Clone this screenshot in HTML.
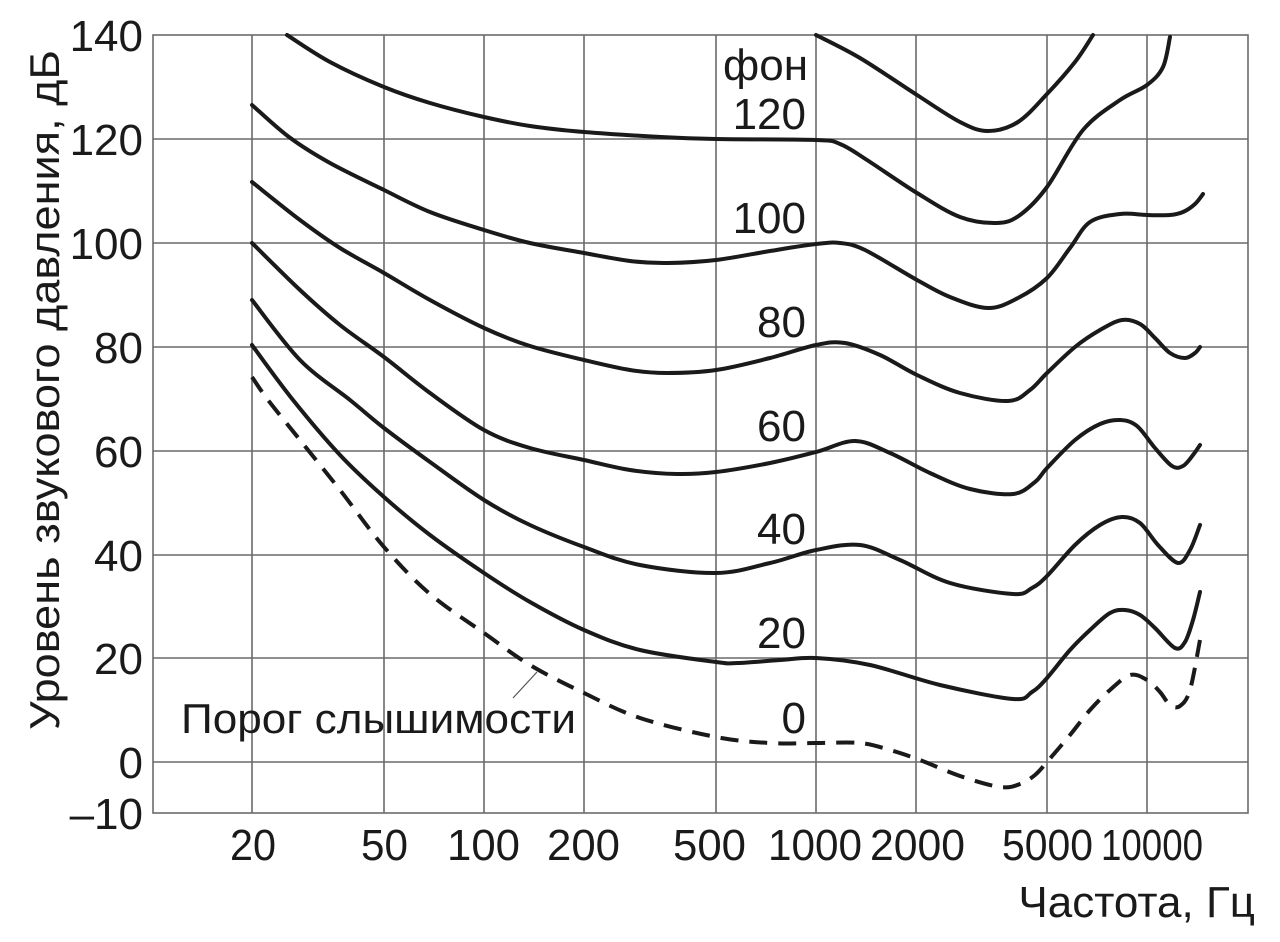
<!DOCTYPE html>
<html><head><meta charset="utf-8"><style>
html,body{margin:0;padding:0;background:#fff;}
svg{display:block;}
text{font-family:"Liberation Sans",sans-serif;fill:#1a1a1a;}
</style></head><body>
<svg id="s" width="1280" height="942" viewBox="0 0 1280 942" xmlns="http://www.w3.org/2000/svg">
<g stroke="#6a6a6a" stroke-width="1.6" fill="none">
<rect x="153" y="35" width="1095" height="778"/>
<line x1="153" y1="139" x2="1248" y2="139"/>
<line x1="153" y1="243" x2="1248" y2="243"/>
<line x1="153" y1="347" x2="1248" y2="347"/>
<line x1="153" y1="451" x2="1248" y2="451"/>
<line x1="153" y1="555" x2="1248" y2="555"/>
<line x1="153" y1="658" x2="1248" y2="658"/>
<line x1="153" y1="762" x2="1248" y2="762"/>
<line x1="252" y1="35" x2="252" y2="813"/>
<line x1="384" y1="35" x2="384" y2="813"/>
<line x1="484" y1="35" x2="484" y2="813"/>
<line x1="584" y1="35" x2="584" y2="813"/>
<line x1="716" y1="35" x2="716" y2="813"/>
<line x1="816" y1="35" x2="816" y2="813"/>
<line x1="916" y1="35" x2="916" y2="813"/>
<line x1="1047" y1="35" x2="1047" y2="813"/>
<line x1="1147" y1="35" x2="1147" y2="813"/>
</g>
<g class="c" stroke="#1a1a1a" stroke-width="4" fill="none" stroke-linejoin="round" stroke-linecap="round">
<polyline points="287,35 330,62 384,87 430,103 484,117 530,126 584,132 661,137 716,139 816,140 840,144 867,160 917,193 960,217 997,223 1020,215 1047,187 1083,130 1120,100 1147,85 1163,67 1170,37"/>
<polyline points="816,35 860,58 917,95 960,122 988,131 1018,122 1047,94 1075,62 1093,35"/>
<polyline points="252,105 289,137 330,163 384,190 430,212 484,230 530,243 584,253 630,261 668,263 716,260 770,251 816,244 840,243 865,250 917,280 950,297 988,308 1018,298 1047,278 1070,248 1090,222 1120,214 1147,215 1170,215 1183,212 1195,204 1203,194"/>
<polyline points="252,182 300,220 340,248 384,273 430,300 484,328 530,346 584,360 630,370 667,373 716,370 770,358 816,345 845,343 880,355 917,375 960,393 1008,401 1030,390 1047,373 1075,347 1100,330 1122,320 1140,324 1155,338 1170,353 1185,358 1195,353 1200,347"/>
<polyline points="252,243 300,290 340,325 384,357 430,393 484,430 530,448 584,460 630,470 677,474 716,472 770,463 816,452 855,441 890,453 930,473 970,489 1013,494 1035,482 1047,468 1075,440 1100,424 1120,420 1137,426 1155,448 1172,466 1183,466 1193,455 1200,445"/>
<polyline points="252,300 300,360 350,400 384,428 430,462 484,500 530,525 584,547 640,565 716,573 770,563 816,550 860,545 900,560 950,583 1013,594 1032,588 1047,576 1075,545 1100,525 1122,517 1140,523 1158,545 1178,563 1190,550 1200,525"/>
<polyline points="252,345 293,400 340,455 384,497 430,535 484,573 530,602 584,630 640,650 716,662 738,663 780,660 816,658 870,665 940,685 1013,699 1032,692 1047,678 1070,650 1090,630 1110,613 1125,610 1140,615 1155,628 1175,648 1185,642 1193,620 1200,592"/>
</g>
<g class="c" fill="none" stroke="#1a1a1a" stroke-width="4" stroke-dasharray="18,11" stroke-linejoin="round">
<polyline points="252,377 268,400 300,440 340,490 384,547 430,594 484,633 530,665 584,693 640,718 716,737 770,743 816,743 860,743 890,750 920,760 960,776 1000,787 1020,784 1035,775 1047,762 1070,735 1090,710 1110,690 1130,675 1147,680 1160,692 1170,705 1180,706 1190,690 1200,640"/>
</g>
<line x1="537" y1="672" x2="513" y2="698" stroke="#555" stroke-width="1.2"/>
<g font-size="44" text-anchor="end">
<text x="143" y="51">140</text>
<text x="143" y="155">120</text>
<text x="143" y="259">100</text>
<text x="143" y="363">80</text>
<text x="143" y="467">60</text>
<text x="143" y="571">40</text>
<text x="143" y="674">20</text>
<text x="143" y="778">0</text>
<text x="143" y="829">–10</text>
<text x="808" y="80">фон</text>
<text x="806" y="129">120</text>
<text x="806" y="233">100</text>
<text x="806" y="337">80</text>
<text x="806" y="441">60</text>
<text x="806" y="544">40</text>
<text x="806" y="648">20</text>
<text x="806" y="733">0</text>
<text x="1255" y="917">Частота, Гц</text>
</g>
<g font-size="44">
<text x="230" y="860" textLength="46" lengthAdjust="spacingAndGlyphs">20</text>
<text x="361" y="860" textLength="47" lengthAdjust="spacingAndGlyphs">50</text>
<text x="447" y="860" textLength="73" lengthAdjust="spacingAndGlyphs">100</text>
<text x="547" y="860" textLength="73" lengthAdjust="spacingAndGlyphs">200</text>
<text x="673" y="860" textLength="73" lengthAdjust="spacingAndGlyphs">500</text>
<text x="768" y="860" textLength="94" lengthAdjust="spacingAndGlyphs">1000</text>
<text x="870" y="860" textLength="95" lengthAdjust="spacingAndGlyphs">2000</text>
<text x="1002" y="860" textLength="91" lengthAdjust="spacingAndGlyphs">5000</text>
<text x="1101" y="860" textLength="102" lengthAdjust="spacingAndGlyphs">10000</text>
</g>
<text x="181" y="733" font-size="42" textLength="395" lengthAdjust="spacingAndGlyphs">Порог слышимости</text>
<text transform="translate(59,390) rotate(-90)" font-size="42" text-anchor="middle" textLength="680" lengthAdjust="spacingAndGlyphs">Уровень звукового давления, дБ</text>
</svg>
<script>
(function(){
var ns="http://www.w3.org/2000/svg";
document.querySelectorAll('.c polyline').forEach(function(pl){
 var p=pl.getAttribute('points').trim().split(/\s+/).map(function(s){return s.split(',').map(Number);});
 var d='M'+p[0][0]+','+p[0][1];
 for(var i=0;i<p.length-1;i++){
  var p0=p[i-1]||p[i],p1=p[i],p2=p[i+1],p3=p[i+2]||p[i+1];
  var c1x=p1[0]+(p2[0]-p0[0])/6,c1y=p1[1]+(p2[1]-p0[1])/6;
  var c2x=p2[0]-(p3[0]-p1[0])/6,c2y=p2[1]-(p3[1]-p1[1])/6;
  d+=' C'+c1x.toFixed(1)+','+c1y.toFixed(1)+' '+c2x.toFixed(1)+','+c2y.toFixed(1)+' '+p2[0]+','+p2[1];
 }
 var path=document.createElementNS(ns,'path');
 path.setAttribute('d',d);
 pl.parentNode.replaceChild(path,pl);
});
})();
</script>
</body></html>
